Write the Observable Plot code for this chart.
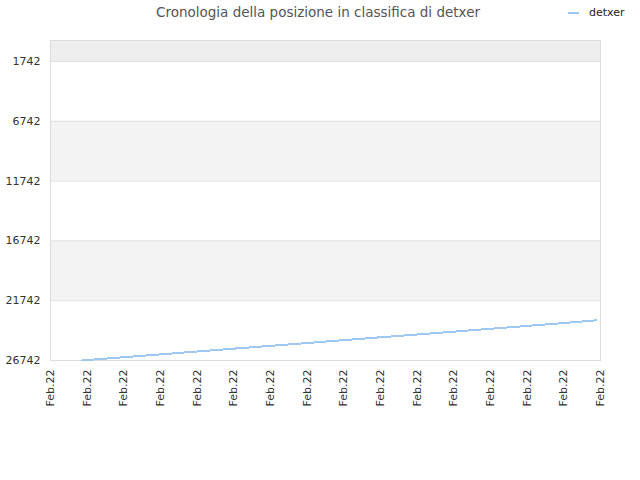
<!DOCTYPE html>
<html>
<head>
<meta charset="utf-8">
<script src="https://cdn.jsdelivr.net/npm/d3@7"></script>
<script src="https://cdn.jsdelivr.net/npm/@observablehq/plot@0.6"></script>
<style>
  body { margin: 0; background: #fff; font-family: "DejaVu Sans", sans-serif; }
  #wrap { position: relative; width: 640px; height: 480px; }
  #title { position: absolute; top: 4px; left: 0; width: 636px; text-align: center; font-size: 13.5px; color: #555; }
  #legend { position: absolute; top: 6px; left: 568px; font-size: 11px; color: #222; display: flex; align-items: center; }
  #legend .sw { width: 11px; height: 2px; background: #9ec8f2; margin-right: 10px; }
  #chart { position: absolute; top: 0; left: 0; }
</style>
</head>
<body>
<div id="wrap">
  <div id="chart"></div>
  <div id="title">Cronologia della posizione in classifica di detxer</div>
  <div id="legend"><span class="sw"></span><span>detxer</span></div>
</div>
<script>
// Data
const seriesName = "detxer";
const timeIndex = [0.87, 1, 2, 3, 4, 5, 6, 7, 8, 9, 10, 11, 12, 13, 14, 14.89];
const rankValues = [26742, 26700, 26470, 26230, 25990, 25750, 25520, 25280, 25040, 24800, 24570, 24330, 24090, 23850, 23610, 23380];
const xTickPositions = [0, 1, 2, 3, 4, 5, 6, 7, 8, 9, 10, 11, 12, 13, 14, 15];
const xTickLabels = ["Feb.22", "Feb.22", "Feb.22", "Feb.22", "Feb.22", "Feb.22", "Feb.22", "Feb.22", "Feb.22", "Feb.22", "Feb.22", "Feb.22", "Feb.22", "Feb.22", "Feb.22", "Feb.22"];
const yTicks = [1742, 6742, 11742, 16742, 21742, 26742];
const bandStarts = [-14, 6742, 16742];
const bandEnds = [1742, 11742, 21742];
const bandColors = ["#eeeeee", "#f3f3f3", "#f3f3f3"];

const data = timeIndex.map((t, i) => ({ t, rank: rankValues[i], series: seriesName }));
const bands = bandStarts.map((s, i) => ({ y1: s, y2: bandEnds[i], fill: bandColors[i] }));

const chart = Plot.plot({
  width: 640,
  height: 480,
  marginLeft: 50,
  marginRight: 40,
  marginTop: 40,
  marginBottom: 120,
  style: { fontFamily: "DejaVu Sans, sans-serif", fontSize: "11px", color: "#333", background: "transparent" },
  x: { domain: [0, 15] },
  y: { domain: [-14, 26742], reverse: true },
  marks: [
    Plot.rect(bands, { x1: 0, x2: 15, y1: "y1", y2: "y2", fill: "fill" }),
    Plot.ruleY(yTicks, { stroke: "#e0e0e0", strokeWidth: 1 }),
    Plot.frame({ stroke: "#dddddd", strokeWidth: 1 }),
    Plot.axisY({ ticks: yTicks, tickSize: 0, tickPadding: 10, tickFormat: d => String(d), label: null, fill: "#333" }),
    Plot.axisX({ ticks: xTickPositions, tickSize: 0, tickPadding: 9, tickRotate: -90, tickFormat: (d, i) => xTickLabels[i], label: null, fill: "#333" }),
    Plot.line(data, { x: "t", y: "rank", stroke: "#9ec8f2", strokeWidth: 2, shapeRendering: "crispEdges" })
  ]
});
document.getElementById("chart").appendChild(chart);
</script>
</body>
</html>
